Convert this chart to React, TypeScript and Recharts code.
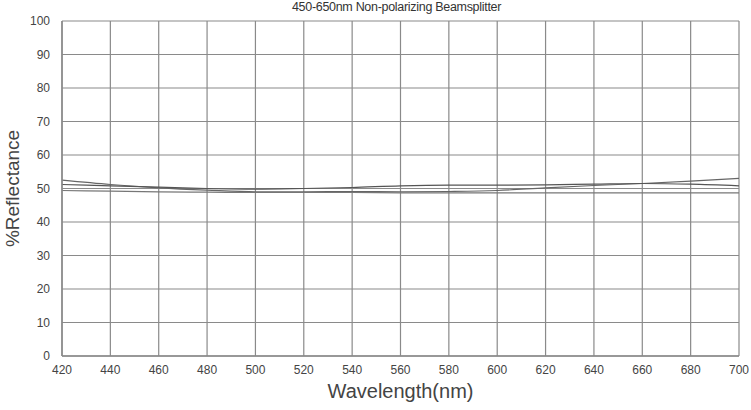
import { LineChart, Line, XAxis, YAxis, CartesianGrid, Label } from 'recharts';

const wavelengths = [420, 440, 460, 480, 500, 520, 540, 560, 580, 600, 620, 640, 660, 680, 700];
const seriesA = [52.5, 51.2, 50.2, 49.5, 49.0, 49.0, 49.1, 49.0, 49.1, 49.4, 50.2, 50.9, 51.5, 52.2, 53.0];
const seriesB = [51.2, 50.8, 50.4, 50.0, 49.8, 50.0, 50.3, 50.8, 51.0, 51.0, 51.1, 51.3, 51.5, 51.3, 50.8];
const seriesC = [49.4, 49.2, 49.0, 48.9, 48.8, 48.8, 48.8, 48.7, 48.7, 48.7, 48.7, 48.7, 48.7, 48.7, 48.7];
const xTicks = [420, 440, 460, 480, 500, 520, 540, 560, 580, 600, 620, 640, 660, 680, 700];
const yTicks = [0, 10, 20, 30, 40, 50, 60, 70, 80, 90, 100];

const data = wavelengths.map((w, i) => ({ w, a: seriesA[i], b: seriesB[i], c: seriesC[i] }));

const font = '"Liberation Sans", Arial, sans-serif';

export default function App() {
  return (
    <div style={{ position: 'absolute', left: 0, top: 0, width: 751, height: 410, background: '#fff', fontFamily: font }}>
      <div style={{ position: 'absolute', left: 21, width: 751, top: 0, textAlign: 'center', fontSize: 12.5, color: '#333', letterSpacing: -0.3 }}>
        450-650nm Non-polarizing Beamsplitter
      </div>
      <LineChart width={751} height={410} data={data} margin={{ top: 21, right: 12, bottom: 24, left: 22 }}>
        <CartesianGrid stroke="#8a8a8a" strokeWidth={1.2} horizontalValues={yTicks} verticalValues={xTicks} />
        <XAxis
          dataKey="w"
          type="number"
          domain={[420, 700]}
          ticks={xTicks}
          height={30}
          tickLine={false}
          axisLine={{ stroke: '#8a8a8a', strokeWidth: 1.5 }}
          tick={{ fontSize: 12, fill: '#444', fontFamily: font }}
          tickMargin={3}
          interval={0}
        >
          <Label value="Wavelength(nm)" position="bottom" offset={-2} style={{ fontSize: 20, fill: '#444', fontFamily: font }} />
        </XAxis>
        <YAxis
          type="number"
          domain={[0, 100]}
          ticks={yTicks}
          width={40}
          tickLine={false}
          axisLine={{ stroke: '#8a8a8a', strokeWidth: 1.5 }}
          tick={{ fontSize: 12, fill: '#444', fontFamily: font }}
          tickMargin={6}
          interval={0}
        >
          <Label value="%Reflectance" angle={-90} position="insideLeft" offset={-10} style={{ fontSize: 19, fill: '#444', fontFamily: font, textAnchor: 'middle' }} />
        </YAxis>
        <Line dataKey="a" type="monotone" stroke="#666" strokeWidth={1.2} dot={false} isAnimationActive={false} />
        <Line dataKey="b" type="monotone" stroke="#555" strokeWidth={1.2} dot={false} isAnimationActive={false} />
        <Line dataKey="c" type="monotone" stroke="#777" strokeWidth={1.2} dot={false} isAnimationActive={false} />
      </LineChart>
    </div>
  );
}
